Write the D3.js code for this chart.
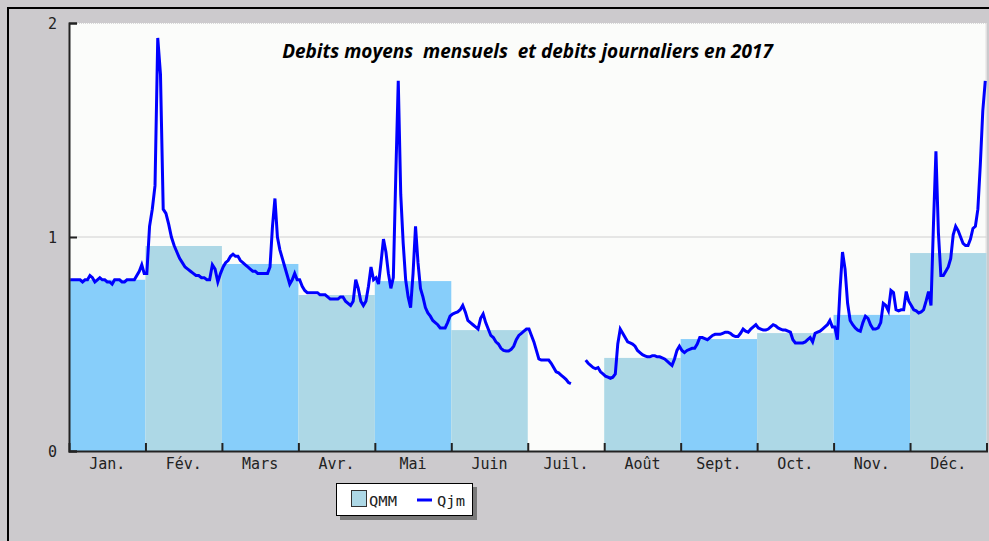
<!DOCTYPE html>
<html>
<head>
<meta charset="utf-8">
<script src="https://cdn.jsdelivr.net/npm/d3@7"></script>
<style>
html,body{margin:0;padding:0;background:#cccacd;overflow:hidden;}
svg{display:block;}
</style>
</head>
<body>
<svg id="chart" width="989" height="541"></svg>
<script>
// ---- DATA ----
const months = ["Jan.","Fév.","Mars","Avr.","Mai","Juin","Juil.","Août","Sept.","Oct.","Nov.","Déc."];
const qmm = [0.80,0.958,0.874,0.729,0.794,0.565,null,0.435,0.523,0.551,0.636,0.925];
const yTicks = [0,1,2];
const titleText = "Debits moyens  mensuels  et debits journaliers en 2017";

const qjmJan = [0.80,0.80,0.80,0.80,0.80,0.79,0.80,0.80,0.82,0.81,0.79,0.80,0.81,0.80,0.80,0.79,0.79,0.78,0.80,0.80,0.80,0.79,0.79,0.80,0.80,0.80,0.80,0.82,0.84,0.87,0.83];
const qjmFeb = [0.83,1.05,1.13,1.24,1.93,1.76,1.13,1.11,1.06,1.00,0.96,0.93,0.90,0.88,0.86,0.85,0.84,0.83,0.82,0.82,0.81,0.81,0.80,0.80,0.87,0.85,0.79,0.83];
const qjmMar = [0.86,0.88,0.89,0.91,0.92,0.91,0.91,0.89,0.88,0.87,0.86,0.85,0.84,0.84,0.83,0.83,0.83,0.83,0.83,0.86,1.05,1.18,1.00,0.94,0.90,0.86,0.82,0.78,0.80,0.83,0.80];
const qjmApr = [0.80,0.77,0.75,0.74,0.74,0.74,0.74,0.74,0.73,0.73,0.73,0.72,0.71,0.71,0.71,0.71,0.72,0.72,0.70,0.69,0.68,0.70,0.80,0.76,0.70,0.68,0.70,0.77,0.86,0.80];
const qjmMay = [0.81,0.78,0.88,0.99,0.93,0.83,0.76,0.81,1.29,1.73,1.20,0.97,0.80,0.72,0.67,0.83,1.05,0.88,0.76,0.72,0.67,0.645,0.63,0.61,0.60,0.59,0.575,0.575,0.575,0.60,0.63];
const qjmJun = [0.64,0.645,0.65,0.66,0.68,0.65,0.61,0.60,0.59,0.58,0.57,0.62,0.64,0.60,0.57,0.54,0.53,0.51,0.50,0.48,0.47,0.467,0.467,0.475,0.49,0.52,0.54,0.55,0.56,0.57];
const qjmJul = [0.57,0.54,0.51,0.47,0.43,0.425,0.425,0.425,0.425,0.41,0.39,0.37,0.365,0.355,0.345,0.335,0.32,0.315,null,null,null,null,null,0.425,0.41,0.40,0.39,0.385,0.39,0.37,0.36];
const qjmAug = [0.35,0.345,0.34,0.345,0.36,0.50,0.57,0.55,0.53,0.51,0.505,0.50,0.49,0.47,0.46,0.45,0.445,0.44,0.44,0.445,0.445,0.44,0.44,0.435,0.43,0.42,0.41,0.40,0.43,0.47,0.49];
const qjmSep = [0.47,0.46,0.47,0.475,0.48,0.48,0.50,0.53,0.53,0.525,0.52,0.53,0.54,0.545,0.545,0.545,0.55,0.555,0.555,0.55,0.54,0.535,0.535,0.55,0.57,0.56,0.555,0.57,0.58,0.59];
const qjmOct = [0.575,0.57,0.565,0.565,0.57,0.58,0.59,0.585,0.575,0.57,0.565,0.565,0.56,0.555,0.52,0.505,0.505,0.505,0.505,0.51,0.52,0.53,0.51,0.55,0.555,0.56,0.57,0.58,0.59,0.61,0.58];
const qjmNov = [0.58,0.52,0.75,0.93,0.85,0.69,0.61,0.59,0.575,0.565,0.56,0.60,0.63,0.62,0.59,0.57,0.57,0.575,0.60,0.69,0.68,0.655,0.75,0.74,0.66,0.655,0.66,0.66,0.745,0.70];
const qjmDec = [0.68,0.66,0.655,0.645,0.65,0.66,0.70,0.745,0.68,1.06,1.40,1.02,0.82,0.82,0.84,0.86,0.90,1.01,1.05,1.03,1.00,0.97,0.96,0.96,0.99,1.04,1.05,1.13,1.34,1.59,1.73];
const qjmByMonth = [qjmJan,qjmFeb,qjmMar,qjmApr,qjmMay,qjmJun,qjmJul,qjmAug,qjmSep,qjmOct,qjmNov,qjmDec];

// ---- LAYOUT ----
const L = 69, R = 986.5, T = 23, B = 451;
const svg = d3.select("#chart");

// outer frame
svg.append("rect").attr("x",0).attr("y",0).attr("width",989).attr("height",541).attr("fill","#cccacd");
svg.append("rect").attr("x",8).attr("y",8).attr("width",1100).attr("height",700)
  .attr("fill","none").attr("stroke","#000").attr("stroke-width",2);

const xBand = d3.scaleBand().domain(months).range([L,R]).paddingInner(0).paddingOuter(0);
const y = d3.scaleLinear().domain([0,2]).range([B,T]);

// plot background
svg.append("rect").attr("x",L).attr("y",T).attr("width",R-L).attr("height",B-T).attr("fill","#fbfcfa");
svg.append("line").attr("x1",L).attr("x2",R).attr("y1",T+0.5).attr("y2",T+0.5)
  .attr("stroke","#d8d8d8").attr("stroke-dasharray","1,1");
svg.append("line").attr("x1",R-0.5).attr("x2",R-0.5).attr("y1",T).attr("y2",B)
  .attr("stroke","#e0e0e0");

// gridline at 1
svg.append("line").attr("x1",L).attr("x2",R).attr("y1",y(1)).attr("y2",y(1))
  .attr("stroke","#d0d0d0").attr("stroke-width",1);

// bars
const barColors = ["#87cefa","#add8e6"];
svg.append("g").selectAll("rect").data(months.map((m,i)=>({m,i,v:qmm[i]})).filter(d=>d.v!=null))
  .join("rect")
  .attr("x",d=>xBand(d.m)).attr("width",xBand.bandwidth())
  .attr("y",d=>y(d.v)).attr("height",d=>y(0)-y(d.v))
  .attr("fill",d=>barColors[d.i%2]);

// daily line
const pts = [];
qjmByMonth.forEach((arr,mi)=>{
  arr.forEach((v,di)=>{
    pts.push({x: xBand(months[mi]) + (di+0.5)/arr.length*xBand.bandwidth(), v});
  });
});
const line = d3.line().defined(d=>d.v!=null).x(d=>d.x).y(d=>y(d.v));
svg.append("path").attr("d",line(pts)).attr("fill","none")
  .attr("stroke","#0000ff").attr("stroke-width",3).attr("stroke-linejoin","miter");

// axes
const axisColor = "#222";
const xAxis = d3.axisBottom(d3.scaleLinear().domain([0,12]).range([L,R]))
  .tickValues(d3.range(1,13)).tickSize(-8).tickFormat("");
const gx = svg.append("g").attr("transform",`translate(0,${B})`).call(xAxis);
gx.select(".domain").attr("stroke",axisColor).attr("stroke-width",2);
gx.selectAll(".tick line").attr("stroke",axisColor).attr("stroke-width",2);

const yAxis = d3.axisLeft(y).tickValues(yTicks).tickSize(-8).tickFormat("");
const gy = svg.append("g").attr("transform",`translate(${L},0)`).call(yAxis);
gy.select(".domain").attr("stroke",axisColor).attr("stroke-width",2);
gy.selectAll(".tick line").attr("stroke",axisColor).attr("stroke-width",2);

// month labels
svg.append("g").selectAll("text").data(months).join("text")
  .attr("x",d=>xBand(d)+xBand.bandwidth()/2).attr("y",B+18)
  .attr("text-anchor","middle")
  .attr("font-family","DejaVu Sans Mono").attr("font-size",15).attr("fill","#222")
  .text(d=>d);

// y labels
svg.append("g").selectAll("text").data(yTicks).join("text")
  .attr("x",57).attr("y",d=>y(d)+5.5)
  .attr("text-anchor","end")
  .attr("font-family","DejaVu Sans Mono").attr("font-size",15).attr("fill","#222")
  .text(d=>d);

// title
const title = svg.append("text")
  .attr("x",(282+773)/2).attr("y",58)
  .attr("text-anchor","middle")
  .attr("font-family","Open Sans").attr("font-style","italic").attr("font-weight","bold")
  .attr("font-size",18).attr("fill","#000")
  .style("white-space","pre")
  .text(titleText);
const tw = title.node().getComputedTextLength();
title.attr("font-size", 18*491/tw);

// legend
const lg = svg.append("g");
lg.append("rect").attr("x",340).attr("y",487).attr("width",137).attr("height",33).attr("fill","#7a7a7a");
lg.append("rect").attr("x",336.5).attr("y",483.5).attr("width",136).attr("height",32)
  .attr("fill","#fff").attr("stroke","#000").attr("stroke-width",1);
lg.append("rect").attr("x",351.5).attr("y",490.5).attr("width",15).attr("height",16)
  .attr("fill","#add8e6").attr("stroke","#333").attr("stroke-width",1);
lg.append("text").attr("x",369).attr("y",506).attr("font-family","DejaVu Sans Mono")
  .attr("font-size",14).attr("fill","#222").attr("textLength",28).attr("lengthAdjust","spacingAndGlyphs").text("QMM");
lg.append("line").attr("x1",417).attr("x2",432).attr("y1",500).attr("y2",500)
  .attr("stroke","#0000ff").attr("stroke-width",3);
lg.append("text").attr("x",437).attr("y",506).attr("font-family","DejaVu Sans Mono")
  .attr("font-size",14).attr("fill","#222").attr("textLength",28).attr("lengthAdjust","spacingAndGlyphs").text("Qjm");
</script>
</body>
</html>
